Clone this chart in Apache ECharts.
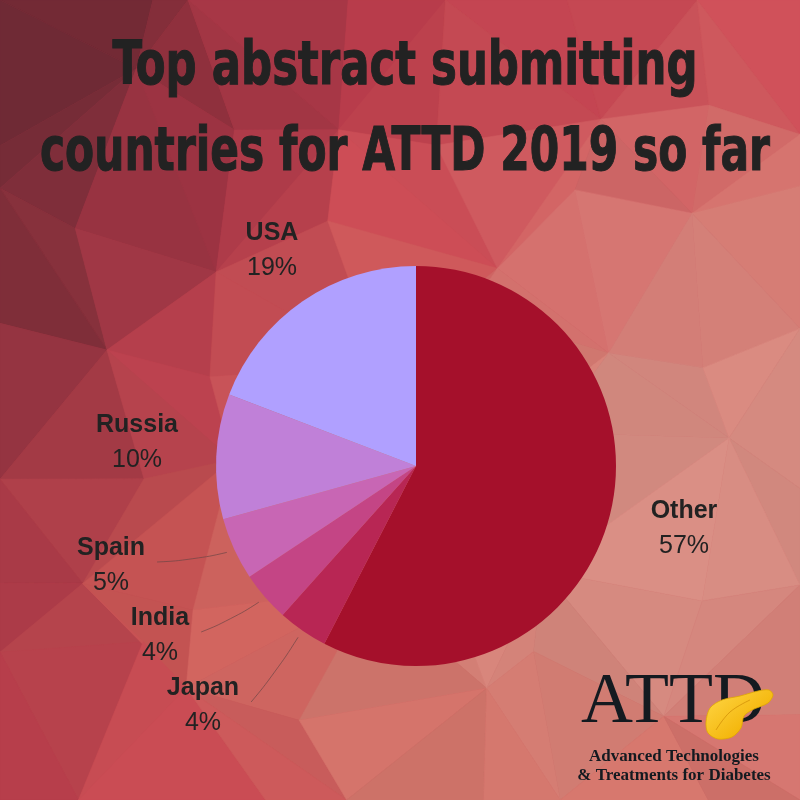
<!DOCTYPE html>
<html>
<head>
<meta charset="utf-8">
<script src="https://cdn.jsdelivr.net/npm/echarts@6/dist/echarts.min.js"></script>
<style>html,body{margin:0;padding:0;}#c{width:800px;height:800px;}</style>
</head>
<body>
<div id="c"></div>
<script>
// ---- data ----
var categories = ['Other', 'Japan', 'India', 'Spain', 'Russia', 'USA'];
var values = [57, 4, 4, 5, 10, 19];
var titleLines = ['Top abstract submitting', 'countries for ATTD 2019 so far'];

// ---- styles ----
var sliceColors = ['#a5102b', '#b82654', '#c44585', '#c866b4', '#c080d8', '#b0a0ff'];
var labelPos = [[684, 529], [203, 706], [160, 636], [111, 566], [137, 443], [272, 251]];
var showLine = [false, true, true, true, false, false];
var CENTER = [416, 466], RADIUS = 200;

function fitScale(text, font, target) {
  var cv = document.createElement('canvas').getContext('2d');
  cv.font = font;
  return target / cv.measureText(text).width;
}
var titleFont = 'bold 60px "DejaVu Sans Condensed", "DejaVu Sans"';
var s1 = fitScale(titleLines[0], titleFont, 585);
var s2 = fitScale(titleLines[1], titleFont, 730);

// ---- low-poly background (decoration) ----
var colorGrid = [
  ['#5e2630', '#8a2f3c', '#b83a4a', '#c4404e', '#c84450'],
  ['#6a2a33', '#a83646', '#cc4c55', '#d06a68', '#d27a72'],
  ['#8a2f3c', '#c04450', '#d06a62', '#d58a80', '#d58a80'],
  ['#a83646', '#d06058', '#cf7a70', '#d68e84', '#d48a80'],
  ['#b03a48', '#cc4a54', '#d07268', '#d07268', '#cf6a66']
];
function hex2rgb(h) { return [parseInt(h.substr(1,2),16), parseInt(h.substr(3,2),16), parseInt(h.substr(5,2),16)]; }
function colorAt(x, y, vary) {
  var gx = Math.max(0, Math.min(3.999, x / 200)), gy = Math.max(0, Math.min(3.999, y / 200));
  var i = Math.floor(gx), j = Math.floor(gy), fx = gx - i, fy = gy - j;
  var c00 = hex2rgb(colorGrid[j][i]), c10 = hex2rgb(colorGrid[j][i+1]);
  var c01 = hex2rgb(colorGrid[j+1][i]), c11 = hex2rgb(colorGrid[j+1][i+1]);
  var out = [];
  for (var k = 0; k < 3; k++) {
    var v = c00[k]*(1-fx)*(1-fy) + c10[k]*fx*(1-fy) + c01[k]*(1-fx)*fy + c11[k]*fx*fy;
    out.push(Math.round(Math.max(0, Math.min(255, v * vary))));
  }
  return 'rgb(' + out.join(',') + ')';
}
function hash(a, b) { var s = Math.sin(a * 12.9898 + b * 78.233) * 43758.5453; return s - Math.floor(s); }
var N = 8, step = 800 / (N - 1), verts = [];
for (var i = 0; i < N; i++) {
  verts.push([]);
  for (var j = 0; j < N; j++) {
    var jx = (i > 0 && i < N - 1) ? (hash(i, j) - 0.5) * step * 0.8 : 0;
    var jy = (j > 0 && j < N - 1) ? (hash(j + 7, i + 3) - 0.5) * step * 0.8 : 0;
    verts[i].push([i * step + jx, j * step + jy]);
  }
}
var bgGraphics = [{type: 'rect', shape: {x: 0, y: 0, width: 800, height: 800}, z: -10, style: {fill: '#c44450'}}];
for (var i = 0; i < N - 1; i++) {
  for (var j = 0; j < N - 1; j++) {
    var a = verts[i][j], b = verts[i+1][j], c = verts[i+1][j+1], d = verts[i][j+1];
    var trisQ = ((i + j) % 2 === 0) ? [[a, b, c], [a, c, d]] : [[a, b, d], [b, c, d]];
    trisQ.forEach(function (t, k) {
      var cx = (t[0][0] + t[1][0] + t[2][0]) / 3, cy = (t[0][1] + t[1][1] + t[2][1]) / 3;
      var vary = 0.97 + hash(i * 3 + k, j * 5 + 1) * 0.06;
      var col = colorAt(cx, cy, vary);
      bgGraphics.push({type: 'polygon', shape: {points: t}, style: {fill: col, stroke: col, lineWidth: 0.6}, z: -9, silent: true});
    });
  }
}

var fg = [
  {type: 'text', x: 405, y: 68, scaleX: s1, z: 10,
   style: {text: titleLines[0], font: titleFont, fill: '#222', textAlign: 'center', textVerticalAlign: 'middle', stroke: '#222', lineWidth: 1}},
  {type: 'text', x: 405, y: 154, scaleX: s2, z: 10,
   style: {text: titleLines[1], font: titleFont, fill: '#222', textAlign: 'center', textVerticalAlign: 'middle', stroke: '#222', lineWidth: 1}},
  {type: 'text', x: 673, y: 739, z: 10,
   style: {text: 'ATTD', font: '72px "Liberation Serif", "DejaVu Serif"', fill: '#141a20', textAlign: 'center', textVerticalAlign: 'bottom'}},
  {type: 'polygon', z: 11,
   shape: {points: [[706,722],[710,708],[722,700],[740,696],[758,691],[769,690],[773,695],[768,703],[752,710],[744,716],[741,728],[732,737],[718,739],[708,733]], smooth: 0.3},
   style: {fill: new echarts.graphic.LinearGradient(0, 0, 0.6, 1, [{offset: 0, color: '#ffd84a'}, {offset: 1, color: '#f2b000'}]), stroke: '#e0a800', lineWidth: 0.8}},
  {type: 'polyline', z: 12, shape: {points: [[716,730],[730,712],[750,700]], smooth: 0.4},
   style: {stroke: 'rgba(200,130,0,0.6)', lineWidth: 1, fill: null}},
  {type: 'text', x: 674, y: 757, z: 10,
   style: {text: 'Advanced Technologies', font: 'bold 17px "Liberation Serif", "DejaVu Serif"', fill: '#141a20', textAlign: 'center', textVerticalAlign: 'middle'}},
  {type: 'text', x: 674, y: 776, z: 10,
   style: {text: '& Treatments for Diabetes', font: 'bold 17px "Liberation Serif", "DejaVu Serif"', fill: '#141a20', textAlign: 'center', textVerticalAlign: 'middle'}}
];

// mid-angle of each slice (degrees clockwise from 12 o'clock), from the values
var total = values.reduce(function (s, v) { return s + v; }, 0);
var midAngles = [], acc = 0;
values.forEach(function (v) { midAngles.push((acc + v / 2) / total * 360); acc += v; });

var chart = echarts.init(document.getElementById('c'), null, {renderer: 'canvas'});
chart.setOption({
  animation: false,
  graphic: bgGraphics.concat(fg),
  series: [{
    type: 'pie',
    center: CENTER,
    radius: RADIUS,
    startAngle: 90,
    clockwise: true,
    data: categories.map(function (c, i) {
      return {
        name: c, value: values[i],
        itemStyle: {color: sliceColors[i]},
        labelLine: {show: showLine[i]}
      };
    }),
    label: {
      show: true,
      position: 'outside',
      formatter: '{n|{b}}\n{p|{c}%}',
      rich: {
        n: {fontFamily: '"Liberation Sans", Arial', fontWeight: 'bold', fontSize: 25, color: '#222', lineHeight: 35},
        p: {fontFamily: '"Liberation Sans", Arial', fontSize: 25, color: '#222', lineHeight: 35}
      }
    },
    labelLine: {show: true, smooth: 0.5, length: 20, length2: 20, lineStyle: {color: 'rgba(110,70,70,0.7)', width: 1}},
    labelLayout: function (p) {
      var i = p.dataIndex, pos = labelPos[i];
      var out = {x: pos[0], y: pos[1], align: 'center', verticalAlign: 'middle'};
      if (showLine[i]) {
        var ang = midAngles[i] * Math.PI / 180;
        var r = RADIUS + 8;
        var sx = CENTER[0] + r * Math.sin(ang), sy = CENTER[1] - r * Math.cos(ang);
        var ex = pos[0] + p.labelRect.width / 2 + 12, ey = pos[1] - 4;
        out.labelLinePoints = [[sx, sy], [(sx + ex) / 2 + 1, (sy + ey) / 2 + 3], [ex, ey]];
      }
      return out;
    }
  }]
});
</script>
</body>
</html>
